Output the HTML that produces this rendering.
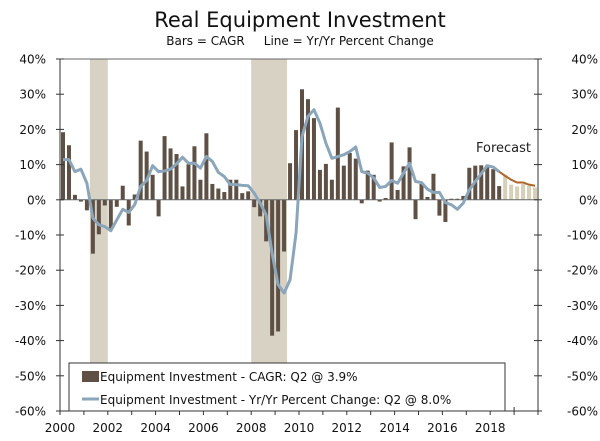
<!DOCTYPE html>
<html><head><meta charset="utf-8"><style>
body{margin:0;background:#fff;}
svg{display:block;font-family:"DejaVu Sans","Liberation Sans",sans-serif;}
</style></head><body>
<svg id="chart" width="600" height="441" viewBox="0 0 600 441">
<text x="300" y="27" text-anchor="middle" font-size="21" fill="#111">Real Equipment Investment</text>
<text x="300" y="45" text-anchor="middle" font-size="12" fill="#111" xml:space="preserve">Bars = CAGR     Line = Yr/Yr Percent Change</text>
<g id="plot"></g>
</svg>
<script>
const cagr=[19.2,15.5,1.4,-0.5,-3,-15.3,-9.8,-1.6,-8.5,-2,4,-7.3,1.5,16.8,13.7,7.1,-4.7,18.1,14.6,13,3.8,10.1,15.2,5.7,18.9,4.5,3.2,2.2,5.7,5.7,1.9,2.4,-2.1,-4.7,-11.8,-38.6,-37.4,-14.7,10.4,19.8,31.4,28.6,23.2,8.5,10.2,5.7,26.2,9.7,13.3,11.7,-1,8.3,7.1,-0.5,0.5,16.3,2.8,9.5,14.9,-5.5,4.5,0.8,7.4,-4.5,-6.3,0.3,0.3,1.1,9.1,9.7,9.8,9.8,8.7,3.9,7.1,4.3,3.8,4.5,4.0,3.5];
const yoy=[11.4,11.4,8,8.7,4.7,-5.2,-7.1,-7.6,-8.8,-5.7,-2.7,-3.6,-1.4,3.8,5.5,9.7,8,8.2,8.7,10.2,12.1,10.4,10.4,9,12.3,10.9,7.8,6.6,4.3,4.3,4.1,4,1.9,-0.9,-4.3,-15.2,-24.1,-26.5,-22.7,-9.5,18,23.7,25.6,21.8,16.1,11.8,12.3,12.8,13.7,15,8,7.6,6.2,3.5,3.8,5.5,4.7,7.6,10.4,5.2,4.9,3,2.1,2.1,-0.8,-1.4,-2.7,-0.9,2.8,5.2,7.4,9.7,9.3,8.0,6.8,5.7,4.9,4.9,4.3,4.0];
const forecastStart=74;
const yTicks=[40,30,20,10,0,-10,-20,-30,-40,-50,-60];
const xYears=[2000,2002,2004,2006,2008,2010,2012,2014,2016,2018];
const recessions=[[2001.25,2002.0],[2008.0,2009.5]];
const X0=60,X1=538,Y0=59,Y1=411;
const xs=t=>X0+(t-2000)*(X1-X0)/20;
const ys=v=>Y0+(40-v)*(Y1-Y0)/100;
const qx=i=>xs(2000+i*0.25)+3;
const NS='http://www.w3.org/2000/svg';
const g=document.getElementById('plot');
function mk(tag,a){const e=document.createElementNS(NS,tag);for(const k in a)e.setAttribute(k,a[k]);g.appendChild(e);return e;}
recessions.forEach(r=>{const e=mk('rect',{x:xs(r[0]),y:Y0,width:xs(r[1])-xs(r[0]),height:Y1-Y0,fill:'#d8d2c4'});

});
cagr.forEach((v,i)=>{const y=Math.min(ys(v),ys(0));const e=mk('rect',{x:qx(i)-2,y:y,width:4,height:Math.abs(ys(v)-ys(0)),fill:i>=forecastStart?'#d6d0b8':'#5e5044'});

});
mk('line',{x1:X0,y1:ys(0),x2:X1,y2:ys(0),stroke:'#666','stroke-width':1});
let p1='',p2='';
yoy.forEach((v,i)=>{if(i<forecastStart)p1+=(i?'L':'M')+qx(i)+','+ys(v);if(i>=forecastStart-1)p2+=(i==forecastStart-1?'M':'L')+qx(i)+','+ys(v);});
const l1=mk('path',{d:p1,fill:'none',stroke:'#8ba6ba','stroke-width':3,'stroke-linejoin':'round'});


const l2=mk('path',{d:p2,fill:'none',stroke:'#b0652a','stroke-width':2});


mk('line',{x1:X0,y1:Y0,x2:X1,y2:Y0,stroke:'#666'});
mk('line',{x1:X0,y1:Y0,x2:X0,y2:Y1,stroke:'#333'});
mk('line',{x1:X1,y1:Y0,x2:X1,y2:Y1,stroke:'#333'});
mk('line',{x1:X0,y1:Y1,x2:X1,y2:Y1,stroke:'#333'});
yTicks.forEach(v=>{const y=ys(v);
mk('line',{x1:X0-4,y1:y,x2:X0+4,y2:y,stroke:'#333'});mk('line',{x1:X1-4,y1:y,x2:X1+4,y2:y,stroke:'#333'});
const a=mk('text',{x:46,y:y+4.5,'text-anchor':'end','font-size':12,fill:'#111'});a.textContent=v+'%';


const b=mk('text',{x:598,y:y+4.5,'text-anchor':'end','font-size':12,fill:'#111'});b.textContent=v+'%';

});
for(let yr=2000;yr<=2020;yr++)mk('line',{x1:xs(yr),y1:Y1-4,x2:xs(yr),y2:Y1+4,stroke:'#333'});
xYears.forEach(yr=>{const t=mk('text',{x:xs(yr),y:432,'text-anchor':'middle','font-size':12,fill:'#111'});t.textContent=yr;

});
const f=mk('text',{x:476,y:152,'font-size':13,fill:'#222'});f.textContent='Forecast';


const lg=mk('rect',{x:69,y:363,width:436,height:48,fill:'#fff',stroke:'#333'});


mk('rect',{x:82,y:371,width:17,height:11,fill:'#5e5044'});
const t1=mk('text',{x:100,y:381,'font-size':12,fill:'#111'});t1.textContent='Equipment Investment - CAGR: Q2 @ 3.9%';


mk('line',{x1:82,y1:399,x2:99,y2:399,stroke:'#8ba6ba','stroke-width':3});
const t2=mk('text',{x:100,y:404,'font-size':12,fill:'#111'});t2.textContent='Equipment Investment - Yr/Yr Percent Change: Q2 @ 8.0%';


</script>
</body></html>
